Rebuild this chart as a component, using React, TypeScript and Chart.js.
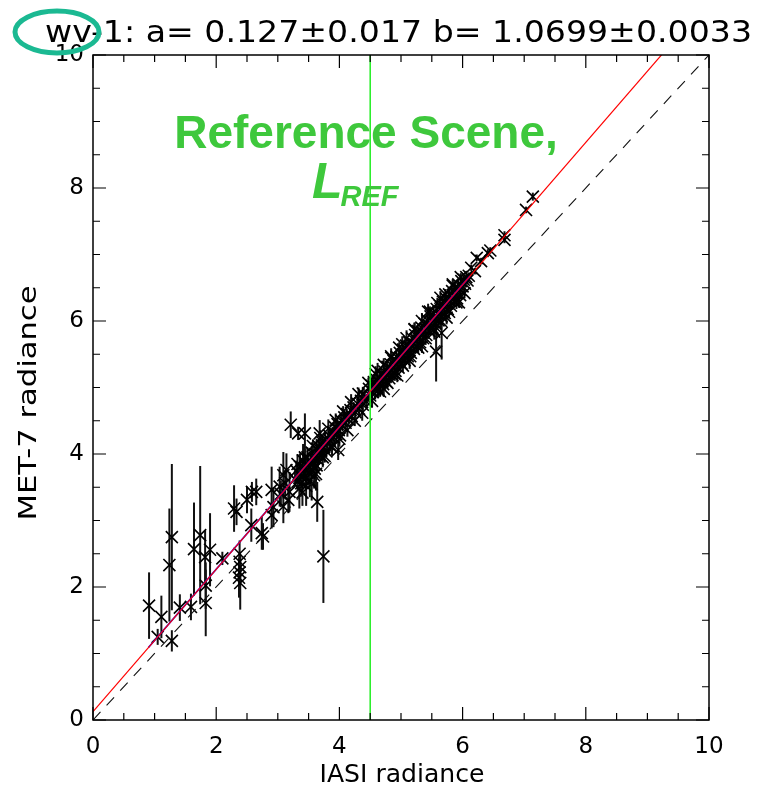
import React, { useEffect, useRef } from 'react';
import { Chart, registerables } from 'chart.js';
Chart.register(...registerables);

const titleText = 'wv-1: a= 0.127±0.017 b= 1.0699±0.0033';
const xTitle = 'IASI radiance';
const yTitle = 'MET-7 radiance';
const refLabel = 'Reference Scene,';
const refSymbol = 'L';
const refSub = 'REF';
const fitA = 0.127;
const fitB = 1.0699;
const fitRangeX = [0, 10];
const blueRangeX = [0.9, 6.12];
const oneToOneX = [0, 10];
const refSceneX = 4.5;
const axisMin = 0;
const axisMax = 10;

const sparseX = [0.91, 1.11, 1.05, 1.28, 1.24, 1.28, 1.41, 1.59, 1.64, 1.74, 1.82, 1.83, 1.83, 1.90, 2.10, 2.29, 2.33, 2.38, 2.38, 2.39, 2.38, 2.37, 2.39, 2.50, 2.58, 2.65, 2.57, 2.74, 2.76, 2.90, 2.90, 2.93, 3.03, 3.09, 3.14, 3.17, 3.19, 3.12, 3.05, 3.09, 3.21, 3.33, 3.44, 3.68, 3.64, 3.74, 3.98, 4.38, 5.57, 5.66];
const sparseY = [1.72, 1.55, 1.25, 1.19, 2.33, 2.75, 1.69, 1.70, 2.57, 2.78, 2.45, 2.02, 1.76, 2.56, 2.43, 3.18, 3.13, 2.50, 2.38, 2.30, 2.22, 2.14, 2.06, 3.31, 3.43, 3.43, 2.93, 2.81, 2.76, 3.46, 3.08, 3.20, 3.51, 3.68, 3.76, 3.31, 3.43, 3.56, 3.40, 3.21, 4.44, 4.31, 4.31, 4.31, 3.28, 2.46, 4.06, 4.91, 5.54, 5.82];
const sparseErr = [0.50, 0.32, 0.12, 0.16, 0.85, 1.10, 0.20, 0.20, 0.70, 1.04, 0.40, 0.35, 0.50, 0.55, 0.10, 0.35, 0.20, 0.20, 0.15, 0.20, 0.25, 0.30, 0.40, 0.20, 0.15, 0.20, 0.25, 0.25, 0.20, 0.35, 0.20, 0.30, 0.30, 0.35, 0.25, 0.20, 0.30, 0.20, 0.20, 0.25, 0.20, 0.10, 0.30, 0.20, 0.30, 0.70, 0.15, 0.10, 0.45, 0.40];

const clusterAX = [3.28, 3.30, 3.32, 3.34, 3.36, 3.38, 3.40, 3.41, 3.43, 3.45, 3.46, 3.48, 3.50, 3.51, 3.53, 3.55, 3.56, 3.58, 3.60, 3.61, 3.63, 3.65, 3.66, 3.68, 3.70, 3.72, 3.73, 3.75, 3.77, 3.79, 3.81, 3.83, 3.85, 3.87, 3.89, 3.91, 3.93, 3.95, 3.97, 3.99, 4.01, 4.03, 4.05, 4.08, 4.10, 4.12, 4.15, 4.18, 4.20, 4.23, 4.26, 4.29, 4.32, 4.35, 4.38, 4.41, 4.44, 3.52, 3.59, 3.46, 3.62, 3.35, 3.40, 3.55];
const clusterAY = [3.62, 3.75, 3.58, 3.70, 3.81, 3.66, 3.74, 3.90, 3.78, 3.63, 3.85, 3.95, 3.80, 3.72, 3.89, 4.02, 3.84, 3.93, 3.78, 4.00, 4.08, 3.92, 4.12, 3.98, 4.05, 4.18, 3.95, 4.10, 4.22, 4.04, 4.15, 4.28, 4.20, 4.12, 4.33, 4.25, 4.40, 4.30, 4.45, 4.36, 4.28, 4.50, 4.42, 4.55, 4.47, 4.60, 4.52, 4.66, 4.57, 4.70, 4.63, 4.76, 4.68, 4.80, 4.74, 4.86, 4.79, 3.60, 3.68, 3.52, 3.70, 3.48, 3.42, 3.55];
const clusterAErr = [0.10, 0.15, 0.12, 0.08, 0.20, 0.10, 0.15, 0.25, 0.10, 0.12, 0.08, 0.15, 0.10, 0.20, 0.12, 0.10, 0.15, 0.08, 0.12, 0.10, 0.15, 0.20, 0.10, 0.12, 0.08, 0.10, 0.15, 0.12, 0.10, 0.08, 0.12, 0.10, 0.15, 0.10, 0.08, 0.12, 0.10, 0.08, 0.10, 0.12, 0.08, 0.10, 0.08, 0.10, 0.12, 0.08, 0.10, 0.08, 0.10, 0.08, 0.10, 0.08, 0.10, 0.08, 0.10, 0.08, 0.10, 0.25, 0.20, 0.30, 0.25, 0.30, 0.20, 0.25];

const clusterBX = [4.48, 4.50, 4.52, 4.54, 4.56, 4.58, 4.60, 4.61, 4.63, 4.65,
  4.66, 4.68, 4.70, 4.71, 4.73, 4.75, 4.76, 4.78, 4.80, 4.81,
  4.83, 4.85, 4.86, 4.88, 4.90, 4.91, 4.93, 4.95, 4.96, 4.98,
  5.00, 5.01, 5.03, 5.05, 5.06, 5.08, 5.10, 5.11, 5.13, 5.15,
  5.16, 5.18, 5.20, 5.21, 5.23, 5.25, 5.26, 5.28, 5.30, 5.31,
  5.33, 5.35, 5.36, 5.38, 5.40, 5.41, 5.43, 5.45, 5.46, 5.48,
  5.50, 5.51, 5.53, 5.55, 5.56, 5.58, 5.60, 5.61, 5.63, 5.65,
  5.66, 5.68, 5.70, 5.71, 5.73, 5.75, 5.76, 5.78, 5.80, 5.81,
  5.83, 5.85, 5.86, 5.88, 5.90, 5.91, 5.93, 5.95, 5.96, 5.98,
  6.00, 6.02, 6.04, 6.06, 6.08, 6.10,
  4.62, 4.84, 5.02, 5.22, 5.44, 5.64, 5.84, 4.72, 4.94, 5.14, 5.34, 5.54, 5.74, 5.94];
const clusterBY = [4.98, 4.88, 5.03, 4.93, 5.08, 4.97, 5.12, 5.01, 4.96, 5.15,
  5.06, 5.20, 5.10, 5.05, 5.24, 5.16, 5.09, 5.31, 5.22, 5.14,
  5.35, 5.27, 5.19, 5.40, 5.33, 5.25, 5.46, 5.38, 5.30, 5.52,
  5.44, 5.36, 5.57, 5.49, 5.41, 5.63, 5.55, 5.47, 5.68, 5.60,
  5.52, 5.74, 5.66, 5.58, 5.79, 5.71, 5.62, 5.85, 5.76, 5.68,
  5.90, 5.82, 5.74, 5.96, 5.88, 5.79, 6.01, 5.93, 5.85, 6.07,
  5.99, 5.90, 6.12, 6.04, 5.96, 6.18, 6.10, 6.01, 6.23, 6.15,
  6.07, 6.29, 6.21, 6.12, 6.34, 6.26, 6.18, 6.40, 6.31, 6.23,
  6.45, 6.37, 6.29, 6.50, 6.42, 6.34, 6.55, 6.47, 6.39, 6.60,
  6.52, 6.62, 6.56, 6.66, 6.61, 6.68,
  5.25, 5.45, 5.65, 5.88, 6.14, 6.35, 6.55, 4.98, 5.18, 5.40, 5.62, 5.84, 6.05, 6.28];
const clusterBErr = [0.10, 0.08, 0.12, 0.06, 0.10, 0.15, 0.08, 0.10, 0.12, 0.06,
  0.08, 0.10, 0.06, 0.12, 0.08, 0.10, 0.06, 0.08, 0.10, 0.12,
  0.06, 0.08, 0.10, 0.06, 0.08, 0.12, 0.06, 0.10, 0.08, 0.06,
  0.10, 0.08, 0.06, 0.10, 0.12, 0.06, 0.08, 0.10, 0.06, 0.08,
  0.10, 0.06, 0.08, 0.12, 0.06, 0.08, 0.10, 0.06, 0.08, 0.10,
  0.06, 0.08, 0.10, 0.06, 0.08, 0.06, 0.10, 0.08, 0.06, 0.08,
  0.10, 0.06, 0.08, 0.06, 0.10, 0.08, 0.06, 0.08, 0.06, 0.10,
  0.06, 0.08, 0.06, 0.10, 0.06, 0.08, 0.06, 0.08, 0.06, 0.08,
  0.06, 0.08, 0.06, 0.06, 0.08, 0.06, 0.06, 0.08, 0.06, 0.06,
  0.06, 0.05, 0.06, 0.05, 0.06, 0.05,
  0.12, 0.10, 0.12, 0.10, 0.12, 0.10, 0.08, 0.12, 0.10, 0.12, 0.10, 0.12, 0.10, 0.08];

const clusterCX = [3.32, 3.38, 3.44, 3.50, 3.57, 3.63, 3.69, 3.76, 3.82, 3.88,
  3.94, 4.00, 4.06, 4.13, 4.19, 4.25, 4.31, 4.37, 4.47, 4.53,
  4.59, 4.66, 4.72, 4.78, 4.84, 4.90, 4.97, 5.03, 5.09, 5.15,
  5.22, 5.28, 5.34, 5.40, 5.47, 5.53, 5.59, 5.65, 5.72, 5.78,
  5.84, 5.90, 5.97, 6.03];
const clusterCY = [3.85, 3.56, 3.95, 3.72, 4.12, 3.83, 4.24, 3.97, 4.38, 4.10,
  4.51, 4.23, 4.64, 4.36, 4.78, 4.50, 4.90, 4.62, 5.07, 4.80,
  5.20, 4.94, 5.34, 5.07, 5.47, 5.20, 5.60, 5.33, 5.74, 5.47,
  5.87, 5.60, 6.00, 5.74, 6.14, 5.87, 6.27, 6.00, 6.40, 6.14,
  6.53, 6.28, 6.66, 6.42];
const clusterCErr = [0.15, 0.20, 0.12, 0.18, 0.10, 0.15, 0.12, 0.10, 0.14, 0.12,
  0.10, 0.12, 0.08, 0.10, 0.12, 0.08, 0.10, 0.12, 0.08, 0.10,
  0.12, 0.08, 0.10, 0.08, 0.12, 0.10, 0.08, 0.10, 0.12, 0.08,
  0.10, 0.08, 0.12, 0.10, 0.08, 0.10, 0.08, 0.12, 0.08, 0.10,
  0.08, 0.10, 0.06, 0.08];

const upperX = [6.14, 6.20, 6.23, 6.30, 6.41, 6.45, 6.68, 6.68, 7.03, 7.14];
const upperY = [6.80, 6.75, 6.95, 6.90, 7.02, 7.06, 7.29, 7.22, 7.67, 7.87];
const upperErr = [0.05, 0.05, 0.05, 0.05, 0.06, 0.05, 0.06, 0.05, 0.05, 0.06];

const toPoints = (xs: number[], ys: number[]) => xs.map((x, i) => ({ x, y: ys[i] }));
const fitLine = (xs: number[]) => xs.map((x) => ({ x, y: fitA + fitB * x }));

const FONT = '"DejaVu Sans", sans-serif';
const GFONT = '"Liberation Sans", Arial, sans-serif';

function fitText(ctx: any, text: string, cx: number, cy: number, width: number, rotate: boolean) {
  const w = ctx.measureText(text).width;
  ctx.save();
  ctx.translate(cx, cy);
  if (rotate) ctx.rotate(-Math.PI / 2);
  ctx.scale(width / w, 1);
  ctx.textAlign = 'center';
  ctx.textBaseline = 'middle';
  ctx.fillText(text, 0, 0);
  ctx.restore();
}

const decorPlugin = {
  id: 'decor',
  beforeDatasetsDraw(chart: any) {
    const { ctx, chartArea, scales } = chart;
    ctx.save();
    ctx.beginPath();
    ctx.rect(chartArea.left, chartArea.top, chartArea.right - chartArea.left, chartArea.bottom - chartArea.top);
    ctx.clip();
    ctx.strokeStyle = '#111';
    ctx.lineWidth = 2;
    chart.data.datasets.forEach((ds: any) => {
      if (!ds.errs) return;
      ds.data.forEach((p: any, i: number) => {
        const px = scales.x.getPixelForValue(p.x);
        const y1 = scales.y.getPixelForValue(p.y - ds.errs[i]);
        const y2 = scales.y.getPixelForValue(p.y + ds.errs[i]);
        ctx.beginPath();
        ctx.moveTo(px, y1);
        ctx.lineTo(px, y2);
        ctx.stroke();
      });
    });
    ctx.restore();
  },
  afterDraw(chart: any) {
    const { ctx, chartArea, scales } = chart;
    const { left, right, top, bottom } = chartArea;
    ctx.save();
    ctx.strokeStyle = '#000';
    ctx.lineWidth = 1.5;
    ctx.strokeRect(left, top, right - left, bottom - top);
    ctx.lineWidth = 1.2;
    for (let v = axisMin; v <= axisMax + 1e-9; v += 0.5) {
      const major = Math.abs(v / 2 - Math.round(v / 2)) < 1e-6;
      const len = major ? 13 : 7;
      const px = scales.x.getPixelForValue(v);
      const py = scales.y.getPixelForValue(v);
      ctx.beginPath();
      ctx.moveTo(px, bottom); ctx.lineTo(px, bottom - len);
      ctx.moveTo(px, top); ctx.lineTo(px, top + len);
      ctx.moveTo(left, py); ctx.lineTo(left + len, py);
      ctx.moveTo(right, py); ctx.lineTo(right - len, py);
      ctx.stroke();
    }
    ctx.fillStyle = '#000';
    ctx.font = `24px ${FONT}`;
    fitText(ctx, xTitle, 402, 776, 165, false);
    fitText(ctx, yTitle, 30, 403, 235, true);
    ctx.font = `30px ${FONT}`;
    ctx.textAlign = 'left';
    ctx.textBaseline = 'alphabetic';
    const tw = ctx.measureText(titleText).width;
    ctx.save();
    ctx.translate(45, 42);
    ctx.scale(707 / tw, 1);
    ctx.fillText(titleText, 0, 0);
    ctx.restore();
    ctx.strokeStyle = '#1bb992';
    ctx.lineWidth = 5;
    ctx.beginPath();
    ctx.ellipse(57, 32, 42, 21, 0, 0, Math.PI * 2);
    ctx.stroke();
    const gx = scales.x.getPixelForValue(refSceneX);
    ctx.fillStyle = '#3ec83c';
    ctx.font = `bold 46px ${GFONT}`;
    ctx.textAlign = 'center';
    ctx.textBaseline = 'alphabetic';
    ctx.fillText(refLabel, 366, 148);
    ctx.textAlign = 'left';
    ctx.font = `italic bold 50px ${GFONT}`;
    const lw = ctx.measureText(refSymbol).width;
    ctx.font = `italic bold 29px ${GFONT}`;
    const sw = ctx.measureText(refSub).width;
    const startX = gx - 14 - (lw + sw) / 2;
    ctx.font = `italic bold 50px ${GFONT}`;
    ctx.fillText(refSymbol, startX, 198);
    ctx.font = `italic bold 29px ${GFONT}`;
    ctx.fillText(refSub, startX + lw - 2, 206);
    ctx.restore();
  },
};

const markerStyle = {
  type: 'scatter' as const,
  pointStyle: 'crossRot',
  pointRadius: 8.5,
  pointBorderWidth: 1.6,
  borderColor: '#000',
  backgroundColor: '#000',
  showLine: false,
  order: 5,
};

export default function App() {
  const ref = useRef<HTMLCanvasElement>(null);
  useEffect(() => {
    document.body.style.margin = '0';
    if (!ref.current) return;
    const chart = new Chart(ref.current, {
      type: 'scatter',
      data: {
        datasets: [
          { ...markerStyle, data: toPoints(sparseX, sparseY), errs: sparseErr } as any,
          { ...markerStyle, data: toPoints(clusterAX, clusterAY), errs: clusterAErr } as any,
          { ...markerStyle, data: toPoints(clusterBX, clusterBY), errs: clusterBErr } as any,
          { ...markerStyle, data: toPoints(clusterCX, clusterCY), errs: clusterCErr } as any,
          { ...markerStyle, data: toPoints(upperX, upperY), errs: upperErr } as any,
          {
            type: 'line', data: oneToOneX.map((x) => ({ x, y: x })), borderColor: '#111',
            borderWidth: 1.1, borderDash: [11, 9], pointRadius: 0, order: 3,
          },
          {
            type: 'line', data: fitLine(blueRangeX), borderColor: '#0000ff',
            borderWidth: 1.6, pointRadius: 0, order: 1,
          },
          {
            type: 'line', data: fitLine(fitRangeX), borderColor: '#ff0000',
            borderWidth: 1.2, pointRadius: 0, order: 0,
          },
          {
            type: 'line', data: [{ x: refSceneX, y: axisMin }, { x: refSceneX, y: axisMax }],
            borderColor: '#22ee22', borderWidth: 1.5, pointRadius: 0, order: 0,
          },
        ],
      },
      options: {
        responsive: false,
        animation: false,
        events: [],
        layout: { padding: { top: 55, right: 52, left: 0, bottom: 0 } },
        plugins: { legend: { display: false }, tooltip: { enabled: false } },
        scales: {
          x: {
            type: 'linear', min: axisMin, max: axisMax,
            grid: { display: false, drawTicks: false },
            border: { display: false },
            ticks: { stepSize: 2, padding: 13, color: '#000', font: { family: FONT, size: 23 }, maxRotation: 0 },
            afterFit: (s: any) => { s.height = 74; },
          },
          y: {
            type: 'linear', min: axisMin, max: axisMax,
            grid: { display: false, drawTicks: false },
            border: { display: false },
            ticks: { stepSize: 2, padding: 9, color: '#000', font: { family: FONT, size: 23 } },
            afterFit: (s: any) => { s.width = 93; },
          },
        },
      } as any,
      plugins: [decorPlugin],
    });
    return () => chart.destroy();
  }, []);
  return <canvas ref={ref} width={761} height={794} style={{ display: 'block' }} />;
}
